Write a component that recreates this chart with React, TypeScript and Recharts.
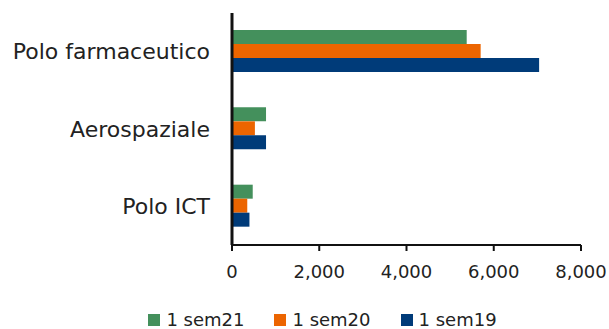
import { BarChart, Bar, XAxis, YAxis, Legend } from "recharts";

const categories = ["Polo farmaceutico", "Aerospaziale", "Polo ICT"];
const sem21 = [5380, 780, 475];
const sem20 = [5700, 525, 350];
const sem19 = [7040, 780, 400];
const xTicks = [0, 2000, 4000, 6000, 8000];

const series = [
  { key: "sem21", name: "1 sem21", color: "#44905C" },
  { key: "sem20", name: "1 sem20", color: "#EC6500" },
  { key: "sem19", name: "1 sem19", color: "#003B79" },
];

const data = categories.map((name, i) => ({
  name,
  sem21: sem21[i],
  sem20: sem20[i],
  sem19: sem19[i],
}));

const font = "'DejaVu Sans', sans-serif";

function LegendBox() {
  return (
    <div
      style={{
        display: "flex",
        justifyContent: "center",
        gap: 30,
        paddingLeft: 54,
        paddingTop: 24,
        fontFamily: font,
        fontSize: 18,
        color: "#222",
      }}
    >
      {series.map((s) => (
        <div key={s.key} style={{ display: "flex", alignItems: "center" }}>
          <span
            style={{
              display: "inline-block",
              width: 12,
              height: 12,
              background: s.color,
              marginRight: 6,
            }}
          />
          {s.name}
        </div>
      ))}
    </div>
  );
}

export default function App() {
  return (
    <div style={{ position: "absolute", left: 0, top: 0, background: "#fff" }}>
      <BarChart
        width={609}
        height={329}
        data={data}
        layout="vertical"
        margin={{ top: 13, right: 28, left: 10, bottom: 4 }}
        barCategoryGap="22%"
        barGap={0}
      >
        <XAxis
          type="number"
          domain={[0, 8000]}
          ticks={xTicks}
          tickFormatter={(v: number) => v.toLocaleString("en-US")}
          tick={{ fill: "#222", fontSize: 18, fontFamily: font }}
          stroke="#111"
          strokeWidth={2}
          tickSize={6}
          tickMargin={14}
          height={40}
        />
        <YAxis
          type="category"
          dataKey="name"
          width={222}
          tick={{ fill: "#222", fontSize: 22, fontFamily: font }}
          stroke="#111"
          strokeWidth={3}
          tickLine={false}
          tickSize={0}
          tickMargin={22}
        />
        <Legend verticalAlign="bottom" height={40} content={<LegendBox />} />
        {series.map((s) => (
          <Bar
            key={s.key}
            dataKey={s.key}
            name={s.name}
            fill={s.color}
            isAnimationActive={false}
          />
        ))}
      </BarChart>
    </div>
  );
}
